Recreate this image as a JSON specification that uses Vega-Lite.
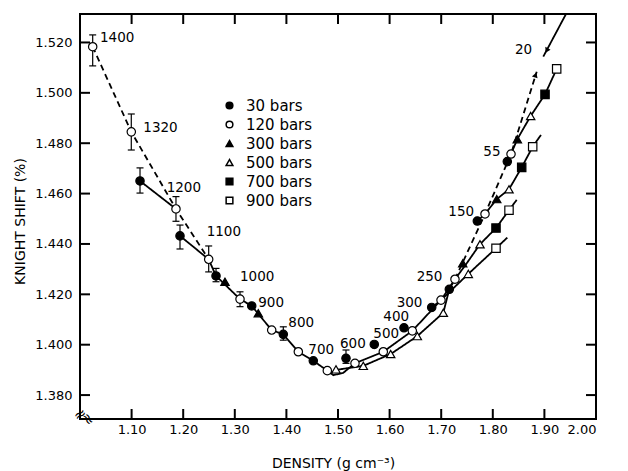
{
"$schema":"https://vega.github.io/schema/vega-lite/v6.json",
"width":516,"height":405,
"autosize":{"type":"none"},
"padding":{"left":80,"top":14,"right":32,"bottom":52},
"background":"white",
"config":{"view":{"stroke":"black","strokeWidth":2},"font":"DejaVu Sans"},
"datasets":{
"pts":[
{"p":"30 bars","x":1.1163,"y":1.4650},{"p":"30 bars","x":1.1938,"y":1.4432},{"p":"30 bars","x":1.2636,"y":1.4273},{"p":"30 bars","x":1.3328,"y":1.4154},{"p":"30 bars","x":1.394,"y":1.4041},{"p":"30 bars","x":1.4521,"y":1.3936},{"p":"30 bars","x":1.5155,"y":1.3946},{"p":"30 bars","x":1.5703,"y":1.4001},{"p":"30 bars","x":1.6279,"y":1.4067},{"p":"30 bars","x":1.6816,"y":1.4148},{"p":"30 bars","x":1.7157,"y":1.4220},{"p":"30 bars","x":1.770,"y":1.4491},{"p":"30 bars","x":1.8281,"y":1.4727},
{"p":"120 bars","x":1.0246,"y":1.5183},{"p":"120 bars","x":1.0994,"y":1.4845},{"p":"120 bars","x":1.186,"y":1.4539},{"p":"120 bars","x":1.2494,"y":1.4339},{"p":"120 bars","x":1.3101,"y":1.4181},{"p":"120 bars","x":1.3715,"y":1.4058},{"p":"120 bars","x":1.4231,"y":1.3972},{"p":"120 bars","x":1.4793,"y":1.3897},{"p":"120 bars","x":1.5329,"y":1.3926},{"p":"120 bars","x":1.5878,"y":1.3972},{"p":"120 bars","x":1.644,"y":1.4055},{"p":"120 bars","x":1.6996,"y":1.4177},{"p":"120 bars","x":1.7267,"y":1.4260},{"p":"120 bars","x":1.7849,"y":1.4519},{"p":"120 bars","x":1.8353,"y":1.4757},
{"p":"300 bars","x":1.281,"y":1.425},{"p":"300 bars","x":1.3456,"y":1.4125},{"p":"300 bars","x":1.7417,"y":1.4323},{"p":"300 bars","x":1.8076,"y":1.4578},{"p":"300 bars","x":1.8475,"y":1.4816},
{"p":"500 bars","x":1.4961,"y":1.3902},{"p":"500 bars","x":1.549,"y":1.3916},{"p":"500 bars","x":1.6021,"y":1.3963},{"p":"500 bars","x":1.6537,"y":1.4034},{"p":"500 bars","x":1.7041,"y":1.4127},{"p":"500 bars","x":1.7525,"y":1.4281},{"p":"500 bars","x":1.7752,"y":1.4399},{"p":"500 bars","x":1.8314,"y":1.4617},{"p":"500 bars","x":1.8734,"y":1.4908},
{"p":"700 bars","x":1.8062,"y":1.4463},{"p":"700 bars","x":1.856,"y":1.4704},{"p":"700 bars","x":1.9012,"y":1.4994},
{"p":"900 bars","x":1.8062,"y":1.4383},{"p":"900 bars","x":1.8314,"y":1.4534},{"p":"900 bars","x":1.8773,"y":1.4786},{"p":"900 bars","x":1.9238,"y":1.5095}
],
"err":[
{"x":1.0246,"lo":1.5107,"hi":1.5230},{"x":1.0994,"lo":1.4773,"hi":1.4916},{"x":1.1163,"lo":1.4602,"hi":1.4702},{"x":1.186,"lo":1.4490,"hi":1.4588},{"x":1.1938,"lo":1.4380,"hi":1.4475},{"x":1.2494,"lo":1.4289,"hi":1.4392},{"x":1.2636,"lo":1.4250,"hi":1.4303},{"x":1.3101,"lo":1.4151,"hi":1.4210},{"x":1.394,"lo":1.4018,"hi":1.4071},{"x":1.5155,"lo":1.3926,"hi":1.3979}
],
"lines":[
{"seg":"D1","st":"dashed","o":1,"x":1.0246,"y":1.5183},{"seg":"D1","st":"dashed","o":2,"x":1.0994,"y":1.4845},{"seg":"D1","st":"dashed","o":3,"x":1.186,"y":1.4539},{"seg":"D1","st":"dashed","o":4,"x":1.2494,"y":1.4339},
{"seg":"S1","st":"solid","o":1,"x":1.1163,"y":1.4650},{"seg":"S1","st":"solid","o":2,"x":1.186,"y":1.4539},
{"seg":"S2","st":"solid","o":1,"x":1.1938,"y":1.4432},{"seg":"S2","st":"solid","o":2,"x":1.2494,"y":1.4339},{"seg":"S2","st":"solid","o":3,"x":1.2636,"y":1.4273},{"seg":"S2","st":"solid","o":4,"x":1.3101,"y":1.4181},{"seg":"S2","st":"solid","o":5,"x":1.3328,"y":1.4154},{"seg":"S2","st":"solid","o":6,"x":1.3715,"y":1.4058},{"seg":"S2","st":"solid","o":7,"x":1.394,"y":1.4041},{"seg":"S2","st":"solid","o":8,"x":1.4231,"y":1.3972},{"seg":"S2","st":"solid","o":9,"x":1.4521,"y":1.3936},{"seg":"S2","st":"solid","o":10,"x":1.4793,"y":1.3897},{"seg":"S2","st":"solid","o":11,"x":1.491,"y":1.3879},{"seg":"S2","st":"solid","o":12,"x":1.51,"y":1.3888},{"seg":"S2","st":"solid","o":13,"x":1.5329,"y":1.3926},{"seg":"S2","st":"solid","o":14,"x":1.5878,"y":1.3972},{"seg":"S2","st":"solid","o":15,"x":1.644,"y":1.4055},{"seg":"S2","st":"solid","o":16,"x":1.6996,"y":1.4177},{"seg":"S2","st":"solid","o":17,"x":1.7267,"y":1.4260},
{"seg":"C2","st":"solid","o":1,"x":1.485,"y":1.3885},{"seg":"C2","st":"solid","o":2,"x":1.4961,"y":1.3900},{"seg":"C2","st":"solid","o":3,"x":1.549,"y":1.3916},{"seg":"C2","st":"solid","o":4,"x":1.6021,"y":1.3963},{"seg":"C2","st":"solid","o":5,"x":1.6537,"y":1.4034},{"seg":"C2","st":"solid","o":6,"x":1.7041,"y":1.4127},{"seg":"C2","st":"solid","o":7,"x":1.7157,"y":1.4220},
{"seg":"I300","st":"solid","o":1,"x":1.6816,"y":1.4148},{"seg":"I300","st":"solid","o":2,"x":1.6996,"y":1.4177},{"seg":"I300","st":"solid","o":3,"x":1.7525,"y":1.4281},{"seg":"I300","st":"solid","o":4,"x":1.8062,"y":1.4383},{"seg":"I300","st":"solid","o":5,"x":1.8281,"y":1.4425},
{"seg":"I250","st":"solid","o":1,"x":1.7157,"y":1.4220},{"seg":"I250","st":"solid","o":2,"x":1.7267,"y":1.4260},{"seg":"I250","st":"solid","o":3,"x":1.7494,"y":1.4323},{"seg":"I250","st":"solid","o":4,"x":1.7752,"y":1.4399},{"seg":"I250","st":"solid","o":5,"x":1.8062,"y":1.4463},{"seg":"I250","st":"solid","o":6,"x":1.8314,"y":1.4534},{"seg":"I250","st":"solid","o":7,"x":1.8463,"y":1.4575},
{"seg":"I150","st":"solid","o":1,"x":1.770,"y":1.4491},{"seg":"I150","st":"solid","o":2,"x":1.7849,"y":1.4519},{"seg":"I150","st":"solid","o":3,"x":1.8076,"y":1.4578},{"seg":"I150","st":"solid","o":4,"x":1.8314,"y":1.4617},{"seg":"I150","st":"solid","o":5,"x":1.856,"y":1.4704},{"seg":"I150","st":"solid","o":6,"x":1.8773,"y":1.4786},{"seg":"I150","st":"solid","o":7,"x":1.8934,"y":1.4833},
{"seg":"I55","st":"solid","o":1,"x":1.8281,"y":1.4727},{"seg":"I55","st":"solid","o":2,"x":1.8353,"y":1.4757},{"seg":"I55","st":"solid","o":3,"x":1.8475,"y":1.4816},{"seg":"I55","st":"solid","o":4,"x":1.8734,"y":1.4908},{"seg":"I55","st":"solid","o":5,"x":1.9012,"y":1.4994},{"seg":"I55","st":"solid","o":6,"x":1.9238,"y":1.5095},
{"seg":"D2","st":"dashed","o":1,"x":1.7267,"y":1.4260},{"seg":"D2","st":"dashed","o":2,"x":1.7849,"y":1.4519},{"seg":"D2","st":"dashed","o":3,"x":1.8353,"y":1.4757},{"seg":"D2","st":"dashed","o":4,"x":1.8851,"y":1.5084},
{"seg":"I20","st":"solid","o":1,"x":1.8979,"y":1.5144},{"seg":"I20","st":"solid","o":2,"x":1.9419,"y":1.5313}
],
"lbl":[
{"t":"1400","x":1.0388,"y":1.5218},{"t":"1320","x":1.1227,"y":1.4859},{"t":"1200","x":1.168,"y":1.4622},{"t":"1100","x":1.2455,"y":1.4449},{"t":"1000","x":1.3101,"y":1.4269},{"t":"900","x":1.3455,"y":1.4165},{"t":"800","x":1.4037,"y":1.4088},{"t":"700","x":1.4425,"y":1.3979},{"t":"600","x":1.5039,"y":1.4003},{"t":"500","x":1.5684,"y":1.4042},{"t":"400","x":1.5878,"y":1.4110},{"t":"300","x":1.6137,"y":1.4167},{"t":"250","x":1.6525,"y":1.4270},{"t":"150","x":1.7138,"y":1.4528},{"t":"55","x":1.7816,"y":1.4766},{"t":"20","x":1.843,"y":1.5170}
],
"xt":[{"v":1.1},{"v":1.2},{"v":1.3},{"v":1.4},{"v":1.5},{"v":1.6},{"v":1.7},{"v":1.8},{"v":1.9}],
"yt":[{"v":1.38},{"v":1.40},{"v":1.42},{"v":1.44},{"v":1.46},{"v":1.48},{"v":1.50},{"v":1.52}],
"arrDown":[{"x":1.9045,"y":1.5168}],
"arrUp":[{"x":1.8828,"y":1.5071}],
"brkY":[{"t":"≈","x":1.0,"y":1.3724}],
"brkX":[{"t":"≈","x":1.016,"y":1.3705}]
},
"layer":[
{"data":{"name":"lines"},
 "mark":{"type":"line","color":"black","strokeWidth":1.8,"clip":true},
 "encoding":{
  "x":{"field":"x","type":"quantitative","scale":{"domain":[1.0,2.0],"nice":false,"zero":false},"axis":null},
  "y":{"field":"y","type":"quantitative","scale":{"domain":[1.3705,1.5313],"nice":false,"zero":false},"axis":null},
  "detail":{"field":"seg","type":"nominal"},
  "order":{"field":"o","type":"quantitative"},
  "strokeDash":{"field":"st","type":"nominal","scale":{"domain":["solid","dashed"],"range":[[1,0],[6,4]]},"legend":null}
 }},
{"data":{"name":"xt"},
 "mark":{"type":"tick","orient":"vertical","color":"black","size":20,"thickness":2,"opacity":1,"clip":true},
 "encoding":{
  "x":{"field":"v","type":"quantitative","axis":null},
  "y":{"datum":1.3705,"type":"quantitative","axis":null}
 }},
{"data":{"name":"xt"},
 "mark":{"type":"tick","orient":"vertical","color":"black","size":20,"thickness":2,"opacity":1,"clip":true},
 "encoding":{
  "x":{"field":"v","type":"quantitative","axis":null},
  "y":{"datum":1.5313,"type":"quantitative","axis":null}
 }},
{"data":{"name":"yt"},
 "mark":{"type":"tick","orient":"horizontal","color":"black","size":20,"thickness":2,"opacity":1,"clip":true},
 "encoding":{
  "y":{"field":"v","type":"quantitative","axis":null},
  "x":{"datum":1.0,"type":"quantitative","axis":null}
 }},
{"data":{"name":"yt"},
 "mark":{"type":"tick","orient":"horizontal","color":"black","size":20,"thickness":2,"opacity":1,"clip":true},
 "encoding":{
  "y":{"field":"v","type":"quantitative","axis":null},
  "x":{"datum":2.0,"type":"quantitative","axis":null}
 }},
{"data":{"name":"err"},
 "mark":{"type":"rule","color":"black","strokeWidth":1.2},
 "encoding":{
  "x":{"field":"x","type":"quantitative","axis":null},
  "y":{"field":"lo","type":"quantitative","axis":null},
  "y2":{"field":"hi"}
 }},
{"data":{"name":"err"},
 "mark":{"type":"tick","orient":"horizontal","color":"black","size":7,"thickness":1.2,"opacity":1},
 "encoding":{
  "x":{"field":"x","type":"quantitative","axis":null},
  "y":{"field":"lo","type":"quantitative","axis":null}
 }},
{"data":{"name":"err"},
 "mark":{"type":"tick","orient":"horizontal","color":"black","size":7,"thickness":1.2,"opacity":1},
 "encoding":{
  "x":{"field":"x","type":"quantitative","axis":null},
  "y":{"field":"hi","type":"quantitative","axis":null}
 }},
{"data":{"name":"arrDown"},
 "mark":{"type":"point","shape":"triangle-up","filled":true,"color":"black","size":35,"angle":208,"opacity":1},
 "encoding":{
  "x":{"field":"x","type":"quantitative","axis":null},
  "y":{"field":"y","type":"quantitative","axis":null}
 }},
{"data":{"name":"arrUp"},
 "mark":{"type":"point","shape":"triangle-up","filled":true,"color":"black","size":35,"angle":18,"opacity":1},
 "encoding":{
  "x":{"field":"x","type":"quantitative","axis":null},
  "y":{"field":"y","type":"quantitative","axis":null}
 }},
{"data":{"name":"brkY"},
 "mark":{"type":"text","font":"DejaVu Sans","fontSize":15,"color":"black","angle":330,"align":"center","baseline":"middle","clip":false},
 "encoding":{
  "x":{"field":"x","type":"quantitative","axis":null},
  "y":{"field":"y","type":"quantitative","axis":null},
  "text":{"field":"t"}
 }},
{"data":{"name":"brkX"},
 "mark":{"type":"text","font":"DejaVu Sans","fontSize":15,"color":"black","angle":60,"align":"center","baseline":"middle","clip":false},
 "encoding":{
  "x":{"field":"x","type":"quantitative","axis":null},
  "y":{"field":"y","type":"quantitative","axis":null},
  "text":{"field":"t"}
 }},
{"data":{"name":"pts"},
 "mark":{"type":"point","filled":true,"stroke":"black","strokeWidth":1.2,"size":70,"opacity":1},
 "encoding":{
  "x":{"field":"x","type":"quantitative","axis":{"orient":"bottom","values":[1.1,1.2,1.3,1.4,1.5,1.6,1.7,1.8,1.9,2.0],"format":".2f","ticks":false,"domain":false,"grid":false,"labelFont":"DejaVu Sans","labelFontSize":13,"labelColor":"black","labelPadding":4,"title":"DENSITY (g cm⁻³)","titleFont":"DejaVu Sans","titleFontSize":14,"titleFontWeight":"normal","titleColor":"black","titleX":253,"titleY":48,"titleBaseline":"alphabetic","titleAlign":"center"}},
  "y":{"field":"y","type":"quantitative","axis":{"orient":"left","values":[1.38,1.40,1.42,1.44,1.46,1.48,1.50,1.52],"format":".3f","ticks":false,"domain":false,"grid":false,"labelFont":"DejaVu Sans","labelFontSize":13,"labelColor":"black","labelPadding":8,"title":"KNIGHT SHIFT (%)","titleFont":"DejaVu Sans","titleFontSize":14,"titleFontWeight":"normal","titleColor":"black","titleX":-60,"titleY":207,"titleBaseline":"middle","titleAlign":"center"}},
  "shape":{"field":"p","type":"nominal","scale":{"domain":["30 bars","120 bars","300 bars","500 bars","700 bars","900 bars"],"range":["circle","circle","triangle-up","triangle-up","square","square"]},
   "legend":{"orient":"none","legendX":142,"legendY":84,"title":null,"labelFont":"DejaVu Sans","labelFontSize":15,"labelColor":"black","symbolSize":45,"rowPadding":3,"labelOffset":9}},
  "fill":{"field":"p","type":"nominal","scale":{"domain":["30 bars","120 bars","300 bars","500 bars","700 bars","900 bars"],"range":["black","white","black","white","black","white"]},
   "legend":{"orient":"none","legendX":142,"legendY":84,"title":null,"labelFont":"DejaVu Sans","labelFontSize":15,"labelColor":"black","symbolSize":45,"rowPadding":3,"labelOffset":9}},
  "stroke":{"field":"p","type":"nominal","scale":{"domain":["30 bars","120 bars","300 bars","500 bars","700 bars","900 bars"],"range":["black","black","black","black","black","black"]},
   "legend":{"orient":"none","legendX":142,"legendY":84,"title":null,"labelFont":"DejaVu Sans","labelFontSize":15,"labelColor":"black","symbolSize":45,"rowPadding":3,"labelOffset":9}}
 }},
{"data":{"name":"lbl"},
 "mark":{"type":"text","align":"left","baseline":"middle","font":"DejaVu Sans","fontSize":13.5,"color":"black"},
 "encoding":{
  "x":{"field":"x","type":"quantitative","axis":null},
  "y":{"field":"y","type":"quantitative","axis":null},
  "text":{"field":"t","type":"nominal"}
 }}
],
"resolve":{"axis":{"x":"independent","y":"independent"}}
}
